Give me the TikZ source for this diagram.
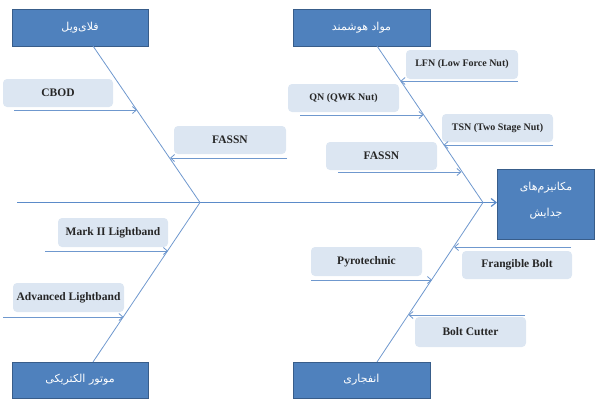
\documentclass[tikz,border=0pt]{standalone}
\usepackage{fontspec}
\setmainfont{Liberation Serif}
\newfontfamily\arabicfont[Script=Arabic]{DejaVu Sans}
\TeXXeTstate=1
\usetikzlibrary{arrows.meta}
\definecolor{catfill}{HTML}{4F81BD}
\definecolor{catdraw}{HTML}{385D8A}
\definecolor{labfill}{HTML}{DCE6F2}
\definecolor{bonecol}{HTML}{6F98CE}
\definecolor{spinecol}{HTML}{5B8BC9}
\tikzset{
  catbox/.style={rectangle, fill=catfill, draw=catdraw, line width=0.9pt, text=white,
    font=\arabicfont\fontsize{11}{13}\selectfont, align=center, inner sep=0pt},
  labbox/.style={rectangle, rounded corners=4pt, fill=labfill, draw=none,
    font=\bfseries\fontsize{11.5}{13}\selectfont, inner sep=0pt, text=black!85},
  smalllab/.style={font=\bfseries\fontsize{10}{12}\selectfont},
  bone/.style={draw=bonecol, line width=0.8pt},
  spine/.style={draw=spinecol, line width=1.8pt, -{Straight Barb[length=5pt,width=8pt,line width=1.2pt]}},
  sub/.style={draw=bonecol, line width=0.8pt, -{Straight Barb[length=4pt,width=7pt]}}
}
\begin{document}
\begin{tikzpicture}[x=1pt,y=-1pt]
\useasboundingbox (0,0) rectangle (595,399);
% category boxes
\node[catbox, minimum width=136pt, minimum height=37pt] (fw) at (80,27.5) {\beginR فلای‌ویل\endR};
\node[catbox, minimum width=137pt, minimum height=37pt] (sm) at (361.5,27.5) {\beginR مواد هوشمند\endR};
\node[catbox, minimum width=136pt, minimum height=36pt] (em) at (80,380) {\beginR موتور الکتریکی\endR};
\node[catbox, minimum width=137pt, minimum height=36pt] (ex) at (361.5,380) {\beginR انفجاری\endR};
\node[catbox, minimum width=97pt, minimum height=70pt] (mech) at (546,204) {};
\node[text=white, font=\arabicfont\fontsize{11}{26}\selectfont, align=center, inner sep=0pt] (mechtxt) at ([yshift=3pt]mech.center) {\beginR مکانیزم‌های\endR\\\beginR جدایش\endR};
% bone coordinates
\coordinate (fwb) at (93,46);
\coordinate (smb) at (377,46);
\coordinate (emb) at (93,362);
\coordinate (exb) at (377,362);
\coordinate (j1) at (200,202.5);
\coordinate (j2) at (483,202.5);
\coordinate (tail) at (17,202.5);
% spine and bones
\draw[spine] (tail) -- (tail -| mech.west);
\draw[bone] (fwb) -- (j1) -- (emb);
\draw[bone] (smb) -- (j2) -- (exb);
% label boxes
\node[labbox, minimum width=110pt, minimum height=28pt] (cbod) at (58,93) {CBOD};
\node[labbox, minimum width=112pt, minimum height=28pt] (fassn1) at (230,140) {FASSN};
\node[labbox, smalllab, minimum width=112pt, minimum height=29pt] (lfn) at (462,64.5) {LFN (Low Force Nut)};
\node[labbox, smalllab, minimum width=111pt, minimum height=28pt] (qn) at (343.5,98) {QN (QWK Nut)};
\node[labbox, smalllab, minimum width=111pt, minimum height=28pt] (tsn) at (497.5,128) {TSN (Two Stage Nut)};
\node[labbox, minimum width=111pt, minimum height=28pt] (fassn2) at (381.5,156) {FASSN};
\node[labbox, minimum width=110pt, minimum height=29pt] (mark) at (113,232.5) {Mark II Lightband};
\node[labbox, minimum width=111pt, minimum height=29pt] (adv) at (68.5,297.5) {Advanced Lightband};
\node[labbox, minimum width=110pt, minimum height=28pt] (frag) at (517,265) {Frangible Bolt};
\node[labbox, minimum width=111pt, minimum height=29pt] (pyro) at (366.5,261.5) {Pyrotechnic};
\node[labbox, minimum width=111pt, minimum height=30pt] (bc) at (470.5,332) {Bolt Cutter};
% sub-arrow coordinates
\coordinate (s1) at (14,110);   \coordinate (e1) at (137,110);
\coordinate (s2) at (287,158);  \coordinate (e2) at (170,158);
\coordinate (s3) at (518,81);   \coordinate (e3) at (400.5,81);
\coordinate (s4) at (300,115);  \coordinate (e4) at (423.5,115);
\coordinate (s5) at (553,145);  \coordinate (e5) at (443.5,145);
\coordinate (s6) at (338,172);  \coordinate (e6) at (461.5,172);
\coordinate (s7) at (45,251);   \coordinate (e7) at (168,251);
\coordinate (s8) at (3,317);    \coordinate (e8) at (123.5,317);
\coordinate (s9) at (571,247);  \coordinate (e9) at (454,247);
\coordinate (s10) at (311,280); \coordinate (e10) at (432,280);
\coordinate (s11) at (525,315); \coordinate (e11) at (408.5,315);
\foreach \i in {1,...,11} { \draw[sub] (s\i) -- (e\i); }
\end{tikzpicture}
\end{document}
